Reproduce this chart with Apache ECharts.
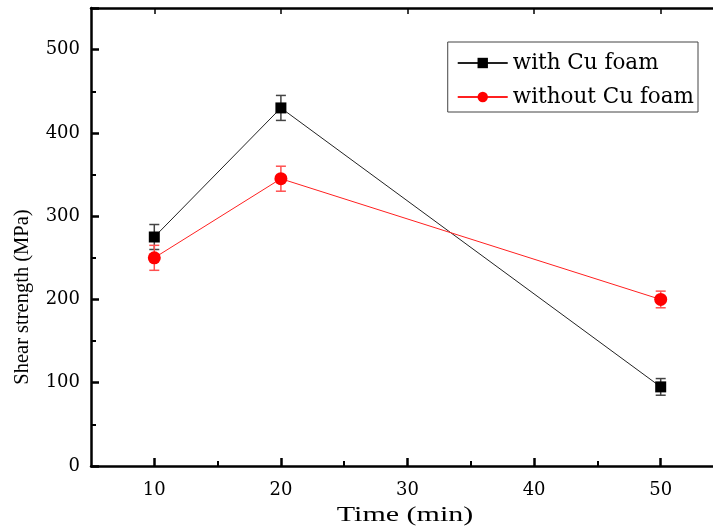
<!DOCTYPE html>
<html>
<head>
<meta charset="utf-8">
<script src="https://cdn.jsdelivr.net/npm/echarts@6/dist/echarts.min.js"></script>
<style>
  html, body { margin: 0; padding: 0; background: #fff; }
  #main { width: 713px; height: 526px; }
</style>
</head>
<body>
<div id="main"></div>
<script>
// data
var times = [10, 20, 50];
var withFoam = [275, 430, 95];
var withFoamErr = [15, 15, 10];
var withoutFoam = [250, 345, 200];
var withoutFoamErr = [15, 15, 10];

var xTicks = [10, 20, 30, 40, 50];
var xMinorTicks = [15, 25, 35, 45];

var font = 'DejaVu Serif';
var nameFont = 'Liberation Serif';

function pairs(xs, ys) {
    return xs.map(function (x, i) { return [x, ys[i]]; });
}
function errData(xs, ys, es) {
    return xs.map(function (x, i) { return [x, ys[i] - es[i], ys[i] + es[i]]; });
}
function errorBars(color) {
    return function (params, api) {
        var x = api.value(0);
        var lo = api.coord([x, api.value(1)]);
        var hi = api.coord([x, api.value(2)]);
        var w = 5;
        var st = { stroke: color, lineWidth: 1.5 };
        return {
            type: 'group',
            children: [
                { type: 'line', shape: { x1: lo[0], y1: lo[1], x2: hi[0], y2: hi[1] }, style: st },
                { type: 'line', shape: { x1: lo[0] - w, y1: lo[1], x2: lo[0] + w, y2: lo[1] }, style: st },
                { type: 'line', shape: { x1: hi[0] - w, y1: hi[1], x2: hi[0] + w, y2: hi[1] }, style: st }
            ]
        };
    };
}

var chart = echarts.init(document.getElementById('main'));
var axisLine = { show: true, lineStyle: { color: '#000', width: 2.5 } };
var option = {
    animation: false,
    grid: { left: 91, right: -11, top: 8, bottom: 60, outerBoundsMode: 'none', containLabel: false },
    legend: {
        right: 15, top: 42,
        orient: 'vertical',
        backgroundColor: '#fff',
        borderColor: '#444', borderWidth: 1,
        padding: [10, 4, 4, 9],
        itemGap: 12,
        itemWidth: 50, itemHeight: 13,
        textStyle: { fontFamily: font, fontSize: 21.5, color: '#000' },
        data: ['with Cu foam', 'without Cu foam']
    },
    xAxis: [{
        type: 'value', min: 5, max: 55,
        axisLine: axisLine,
        axisTick: { inside: true, length: 8, customValues: xTicks, lineStyle: { width: 2.5, color: '#000' } },
        axisLabel: { fontFamily: font, fontSize: 18, color: '#000', margin: 15, customValues: xTicks },
        splitLine: { show: false }
    }, {
        type: 'value', min: 5, max: 55, position: 'top',
        axisLine: axisLine,
        axisTick: { inside: true, length: 6, customValues: xTicks, lineStyle: { width: 1.5, color: '#000' } },
        axisLabel: { show: false },
        splitLine: { show: false }
    }, {
        type: 'value', min: 5, max: 55, position: 'bottom',
        axisLine: { show: false },
        axisTick: { inside: true, length: 5, customValues: xMinorTicks, lineStyle: { width: 2, color: '#000' } },
        axisLabel: { show: false },
        splitLine: { show: false }
    }],
    yAxis: {
        type: 'value', min: 0, max: 550, interval: 100,
        axisLine: axisLine,
        axisTick: { inside: true, length: 8, lineStyle: { width: 2.5, color: '#000' } },
        minorTick: { show: true, splitNumber: 2, length: 5, lineStyle: { width: 2, color: '#000' } },
        axisLabel: { fontFamily: font, fontSize: 18, color: '#000', margin: 11,
            formatter: function (v) { return v % 100 === 0 ? v : ''; } },
        splitLine: { show: false }
    },
    graphic: [{
        type: 'text', x: 23, y: 297, rotation: Math.PI / 2,
        style: { text: 'Shear strength (MPa)', fontFamily: nameFont, fontSize: 20.5, fill: '#000',
            align: 'center', verticalAlign: 'middle' }
    }, {
        type: 'text', x: 405, y: 516, scaleX: 1.5,
        style: { text: 'Time (min)', fontFamily: nameFont, fontSize: 20, fill: '#000',
            align: 'center', verticalAlign: 'middle' }
    }],
    series: [{
        name: 'with Cu foam', type: 'line',
        data: pairs(times, withFoam),
        symbol: 'rect', symbolSize: 11,
        itemStyle: { color: '#000' },
        lineStyle: { color: '#222', width: 1 },
        z: 3
    }, {
        name: 'without Cu foam', type: 'line',
        data: pairs(times, withoutFoam),
        symbol: 'circle', symbolSize: 13,
        itemStyle: { color: '#ff0000' },
        lineStyle: { color: '#ff2020', width: 1 },
        z: 3
    }, {
        type: 'custom', renderItem: errorBars('#444'),
        data: errData(times, withFoam, withFoamErr), z: 2
    }, {
        type: 'custom', renderItem: errorBars('#ff5050'),
        data: errData(times, withoutFoam, withoutFoamErr), z: 2
    }]
};
chart.setOption(option);
window.addEventListener('resize', function () { chart.resize(); });
</script>
</body>
</html>
